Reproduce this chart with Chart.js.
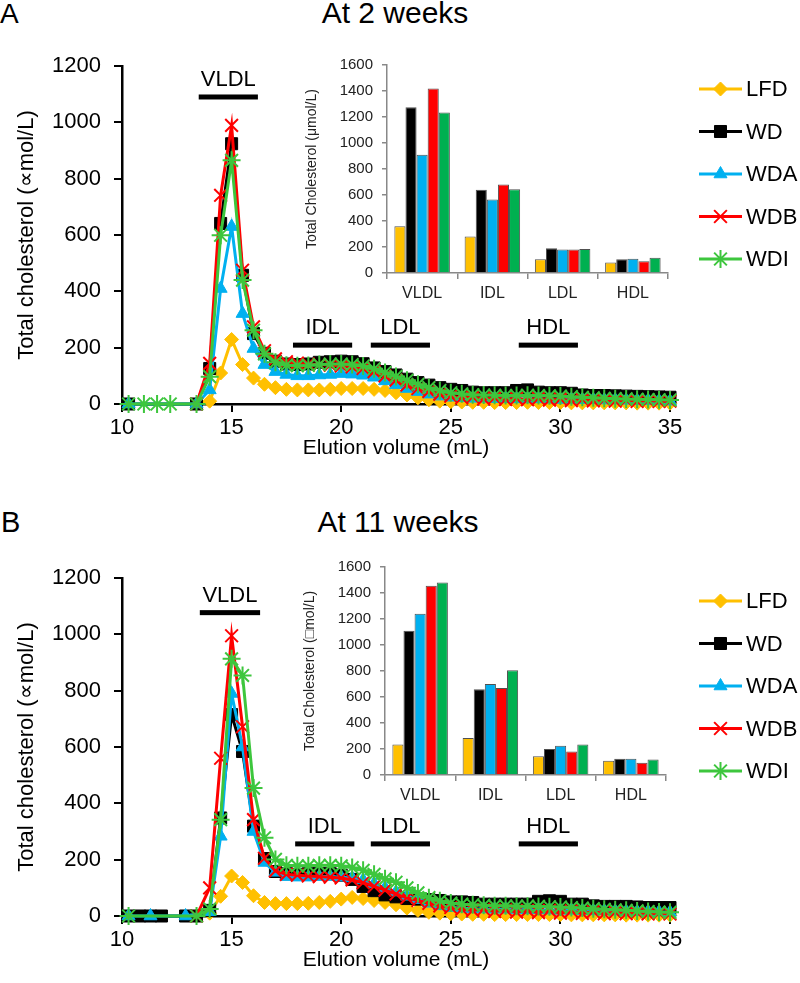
<!DOCTYPE html>
<html>
<head>
<meta charset="utf-8">
<script src="https://cdn.jsdelivr.net/npm/chart.js@4.4.1/dist/chart.umd.min.js"></script>
<style>
  body { margin: 0; background: #fff; width: 800px; height: 983px; position: relative; overflow: hidden;
         font-family: "Liberation Sans", Arial, Helvetica, sans-serif; }
  canvas { position: absolute; }
  .lbl { position: absolute; color: #000; line-height: 1; white-space: nowrap; }
  .ttl { position: absolute; color: #000; line-height: 1; white-space: nowrap; text-align: center; width: 400px; }
</style>
</head>
<body>
<div class="lbl" style="left:0;top:0;font-size:28px">A</div>
<div class="ttl" style="left:195px;top:-2px;font-size:30px">At 2 weeks</div>
<div class="lbl" style="left:1px;top:508px;font-size:29px">B</div>
<div class="ttl" style="left:198px;top:507px;font-size:30px">At 11 weeks</div>

<canvas id="mainA" width="800" height="480" style="left:0;top:0"></canvas>
<canvas id="insetA" width="400" height="290" style="left:280px;top:40px"></canvas>
<canvas id="mainB" width="800" height="480" style="left:0;top:512px"></canvas>
<canvas id="insetB" width="400" height="290" style="left:278px;top:542px"></canvas>

<script>
// Lipoprotein profiles (FPLC), two time points

const seriesNames = ['LFD', 'WD', 'WDA', 'WDB', 'WDI'];
const fractionNames = ['VLDL', 'IDL', 'LDL', 'HDL'];

// ---- panel A: at 2 weeks ----
const xA = [10.3, 11, 11.6, 12.2, 13.4, 14, 14.5, 15, 15.5, 16, 16.5, 17, 17.5, 18, 18.5, 19, 19.5, 20, 20.5, 21,
    21.5, 22, 22.5, 23, 23.5, 24, 24.5, 25, 25.5, 26, 26.5, 27, 27.5, 28, 28.5, 29, 29.5, 30, 30.5, 31, 31.5, 32,
    32.5, 33, 33.5, 34, 34.5, 35];
const lfdA = [null, null, null, null, 0, 10, 110, 229, 140, 92, 70, 58, 52, 50, 50, 50, 52, 55, 55, 55, 52, 48, 40,
    32, 22, 15, 10, 8, 7, 6, 6, 5, 5, 5, 6, 5, 5, 5, 4, 4, 4, 4, 4, 4, 3, 3, 3, 3];
const wdA = [0, null, null, null, 0, 126, 641, 924, 457, 250, 180, 152, 142, 140, 142, 148, 150, 152, 150, 143, 128,
    115, 103, 88, 76, 67, 58, 52, 48, 42, 40, 40, 40, 48, 50, 42, 40, 40, 38, 32, 30, 30, 29, 28, 27, 26, 25, 24];
const wdaA = [0, null, null, null, 0, 50, 410, 630, 321, 197, 140, 115, 105, 100, 100, 103, 105, 108, 106, 102, 95,
    82, 68, 55, 44, 35, 28, 24, 22, 20, 20, 19, 19, 18, 18, 18, 17, 16, 16, 15, 15, 14, 14, 13, 12, 12, 11, 10];
const wdbA = [null, null, null, null, 0, 144, 741, 989, 475, 274, 189, 160, 150, 145, 142, 140, 138, 135, 132, 126,
    115, 100, 85, 68, 55, 45, 35, 28, 22, 25, 18, 22, 16, 20, 15, 20, 14, 18, 12, 16, 11, 15, 10, 14, 9, 12, 9, 10];
const wdiA = [0, 0, 0, 0, 0, 97, 599, 865, 440, 262, 178, 148, 138, 136, 137, 140, 142, 142, 140, 135, 125, 112,
    98, 84, 70, 58, 48, 40, 36, 33, 32, 31, 30, 30, 31, 30, 29, 28, 26, 24, 22, 20, 19, 18, 17, 16, 15, 14];

// fraction pooling ranges (mL) and bar height (umol/L)
const fracFromA = [13.5, 17.8, 21.35, 28.1];
const fracToA = [16.2, 20.5, 24.05, 30.8];
const fracLevelA = [1090, 209, 209, 209];

// inset totals per fraction
const barLfdA = [360, 280, 105, 80];
const barWdA = [1275, 640, 190, 105];
const barWdaA = [910, 565, 180, 110];
const barWdbA = [1420, 680, 180, 90];
const barWdiA = [1235, 645, 185, 118];

// ---- panel B: at 11 weeks ----
const xB = [10.3, 10.8, 11.3, 11.8, 12.9, 13.4, 14, 14.5, 15, 15.5, 16, 16.5, 17, 17.5, 18, 18.5, 19, 19.5, 20, 20.5,
    21, 21.5, 22, 22.5, 23, 23.5, 24, 24.5, 25, 25.5, 26, 26.5, 27, 27.5, 28, 28.5, 29, 29.5, 30, 30.5, 31, 31.5,
    32, 32.5, 33, 33.5, 34, 34.5, 35];
const lfdB = [null, null, null, null, null, 0, 10, 70, 142, 119, 72, 48, 44, 44, 44, 45, 48, 52, 60, 66, 62, 55,
    48, 40, 28, 20, 13, 10, 8, 7, 6, 6, 5, 5, 5, 5, 5, 5, 5, 4, 4, 4, 4, 4, 3, 3, 3, 3, 3];
const wdB = [0, 0, 0, 0, 0, 0, 20, 348, 715, 584, 319, 204, 158, 150, 148, 150, 150, 150, 145, 130, 105, 90, 75,
    68, 62, 60, 58, 55, 50, 50, 48, 42, 42, 42, 42, 42, 52, 54, 52, 42, 42, 36, 34, 34, 34, 32, 30, 30, 30];
const wdaB = [0, null, 0, null, 0, null, 15, 283, 790, 600, 300, 190, 155, 140, 138, 138, 140, 140, 138, 135, 128,
    115, 100, 85, 70, 58, 45, 36, 30, 28, 26, 25, 24, 24, 23, 22, 22, 21, 20, 20, 19, 18, 18, 17, 16, 15, 15, 14, 13];
const wdbB = [null, null, null, null, null, 0, 100, 560, 995, 672, 342, 205, 160, 148, 145, 142, 140, 138, 135, 128,
    118, 105, 92, 78, 65, 55, 45, 36, 30, 24, 20, 24, 16, 22, 14, 20, 12, 20, 10, 18, 9, 16, 8, 14, 8, 12, 7, 10, 7];
const wdiB = [0, null, null, null, null, 0, 25, 342, 913, 854, 454, 278, 201, 180, 178, 178, 180, 180, 178, 172,
    162, 148, 132, 120, 100, 82, 65, 54, 46, 42, 40, 38, 36, 36, 35, 35, 34, 33, 32, 30, 28, 26, 24, 22, 20, 18, 16,
    14, 13];

const fracFromB = [13.55, 17.9, 21.35, 28.1];
const fracToB = [16.3, 20.6, 24.05, 30.8];
const fracLevelB = [1077, 256, 256, 256];

const barLfdB = [235, 285, 145, 110];
const barWdB = [1110, 660, 200, 125];
const barWdaB = [1240, 700, 225, 125];
const barWdbB = [1455, 670, 180, 95];
const barWdiB = [1480, 805, 235, 120];

// ---- styles ----
const FONT = '"Liberation Sans", Arial, Helvetica, sans-serif';
const lineColors = ['#FFC000', '#000000', '#00B0F0', '#FF0000', '#3DC63D'];
const barColors = ['#FFC000', '#000000', '#00B0F0', '#FF0000', '#00B050'];
const pointStyles = ['rectRot', 'rect', 'triangle', 'crossRot', 'star'];
const pointRadii = [7, 8.5, 7.5, 9, 9];

Chart.defaults.font.family = FONT;
Chart.defaults.color = '#000';

// plain numbers, no thousands separator
const plainTick = v => String(v);

function lineDatasets(xs, series) {
    return series.map((vals, i) => ({
        label: seriesNames[i],
        data: xs.map((x, j) => ({ x: x, y: vals[j] })),
        borderColor: lineColors[i],
        backgroundColor: lineColors[i],
        pointBorderColor: lineColors[i],
        pointBackgroundColor: lineColors[i],
        borderWidth: 3,
        pointStyle: pointStyles[i],
        pointRadius: pointRadii[i],
        pointBorderWidth: i >= 3 ? 2 : 1,
        tension: 0,
        spanGaps: true,
        clip: false,
        order: series.length - i   // last series drawn on top, like the original
    }));
}

// fraction bars + labels inside the profile plot
const fractionPlugin = {
    id: 'fractions',
    afterDatasetsDraw(chart, args, opts) {
        const { ctx, scales: { x, y } } = chart;
        ctx.save();
        ctx.fillStyle = '#000';
        ctx.font = '22px ' + FONT;
        ctx.textAlign = 'center';
        ctx.textBaseline = 'alphabetic';
        fractionNames.forEach((name, i) => {
            const x0 = x.getPixelForValue(opts.from[i]);
            const x1 = x.getPixelForValue(opts.to[i]);
            const yy = y.getPixelForValue(opts.level[i]);
            ctx.fillRect(x0, yy - 2.5, x1 - x0, 5);
            ctx.fillText(name, (x0 + x1) / 2, yy - 11);
        });
        ctx.restore();
    }
};

// legend at the right side
const sideLegend = {
    id: 'sideLegend',
    afterDraw(chart, args, opts) {
        const ctx = chart.ctx;
        chart.data.datasets.forEach((ds, i) => {
            const y = opts.top + i * opts.gap;
            ctx.save();
            ctx.strokeStyle = ds.borderColor;
            ctx.lineWidth = 3;
            ctx.beginPath();
            ctx.moveTo(opts.x0, y);
            ctx.lineTo(opts.x1, y);
            ctx.stroke();
            ctx.fillStyle = ds.backgroundColor;
            ctx.lineWidth = ds.pointBorderWidth;
            Chart.helpers.drawPoint(ctx, {
                pointStyle: ds.pointStyle, radius: ds.pointRadius,
                borderWidth: ds.pointBorderWidth, rotation: 0
            }, (opts.x0 + opts.x1) / 2, y);
            ctx.fillStyle = '#000';
            ctx.font = '22px ' + FONT;
            ctx.textAlign = 'left';
            ctx.textBaseline = 'middle';
            ctx.fillText(ds.label, opts.x1 + 4, y + 1);
            ctx.restore();
        });
    }
};

function renderProfile(canvasId, xs, series, from, to, level) {
    const ctx = document.getElementById(canvasId).getContext('2d');
    return new Chart(ctx, {
        type: 'line',
        data: { datasets: lineDatasets(xs, series) },
        plugins: [fractionPlugin, sideLegend],
        options: {
            responsive: false,
            animation: false,
            devicePixelRatio: 1,
            layout: { padding: { left: 0, right: 130, top: 66, bottom: 16 } },
            plugins: {
                legend: { display: false },
                tooltip: { enabled: false },
                fractions: { from: from, to: to, level: level },
                sideLegend: { x0: 699, x1: 742, top: 89, gap: 42.5 }
            },
            scales: {
                x: {
                    type: 'linear', min: 10, max: 35,
                    afterFit: s => { s.height = 60; },
                    ticks: { stepSize: 5, color: '#000', font: { size: 22 }, padding: 3, maxRotation: 0, callback: plainTick },
                    grid: { display: true, drawOnChartArea: false, drawTicks: true, tickLength: 8, color: '#000', lineWidth: 2 },
                    border: { display: true, color: '#000', width: 2.5 },
                    title: { display: true, text: 'Elution volume (mL)', color: '#000', font: { size: 21 },
                        padding: { top: 0, bottom: 3 } }
                },
                y: {
                    min: 0, max: 1200,
                    afterFit: s => { s.width = 122; },
                    ticks: { stepSize: 200, color: '#000', font: { size: 22 }, padding: 13, callback: plainTick },
                    grid: { display: true, drawOnChartArea: false, drawTicks: true, tickLength: 8, color: '#000', lineWidth: 2 },
                    border: { display: true, color: '#000', width: 2.5 },
                    title: { display: true, text: 'Total cholesterol (\u221Dmol/L)', color: '#000', font: { size: 22 },
                        padding: { top: 14, bottom: 0 } }
                }
            }
        }
    });
}

function renderInset(canvasId, bars, yTitle) {
    const ctx = document.getElementById(canvasId).getContext('2d');
    return new Chart(ctx, {
        type: 'bar',
        data: {
            labels: fractionNames,
            datasets: bars.map((vals, i) => ({
                label: seriesNames[i],
                data: vals,
                backgroundColor: barColors[i],
                borderColor: '#505050',
                borderWidth: 1,
                categoryPercentage: 0.79,
                barPercentage: 1.0
            }))
        },
        options: {
            responsive: false,
            animation: false,
            devicePixelRatio: 1,
            layout: { padding: { left: 0, right: 12, top: 25, bottom: 12 } },
            plugins: { legend: { display: false }, tooltip: { enabled: false } },
            scales: {
                x: {
                    afterFit: s => { s.height = 45; },
                    ticks: { color: '#222', font: { size: 16 }, padding: 5 },
                    grid: { display: true, drawOnChartArea: false, drawTicks: true, tickLength: 6, color: '#888', lineWidth: 1.5, offset: true },
                    border: { display: true, color: '#888', width: 1.5 }
                },
                y: {
                    min: 0, max: 1600,
                    afterFit: s => { s.width = 107; },
                    ticks: { stepSize: 200, color: '#222', font: { size: 15 }, padding: 9, callback: plainTick },
                    grid: { display: true, drawOnChartArea: false, drawTicks: true, tickLength: 5, color: '#888', lineWidth: 1.5 },
                    border: { display: true, color: '#888', width: 1.5 },
                    title: { display: true, text: yTitle, color: '#222', font: { size: 14 }, padding: { top: 24, bottom: 0 } }
                }
            }
        }
    });
}

renderProfile('mainA', xA, [lfdA, wdA, wdaA, wdbA, wdiA], fracFromA, fracToA, fracLevelA);
renderInset('insetA', [barLfdA, barWdA, barWdaA, barWdbA, barWdiA], 'Total Cholesterol (\u03BCmol/L)');
renderProfile('mainB', xB, [lfdB, wdB, wdaB, wdbB, wdiB], fracFromB, fracToB, fracLevelB);
renderInset('insetB', [barLfdB, barWdB, barWdaB, barWdbB, barWdiB], 'Total Cholesterol (\u25A1mol/L)');
</script>
</body>
</html>
